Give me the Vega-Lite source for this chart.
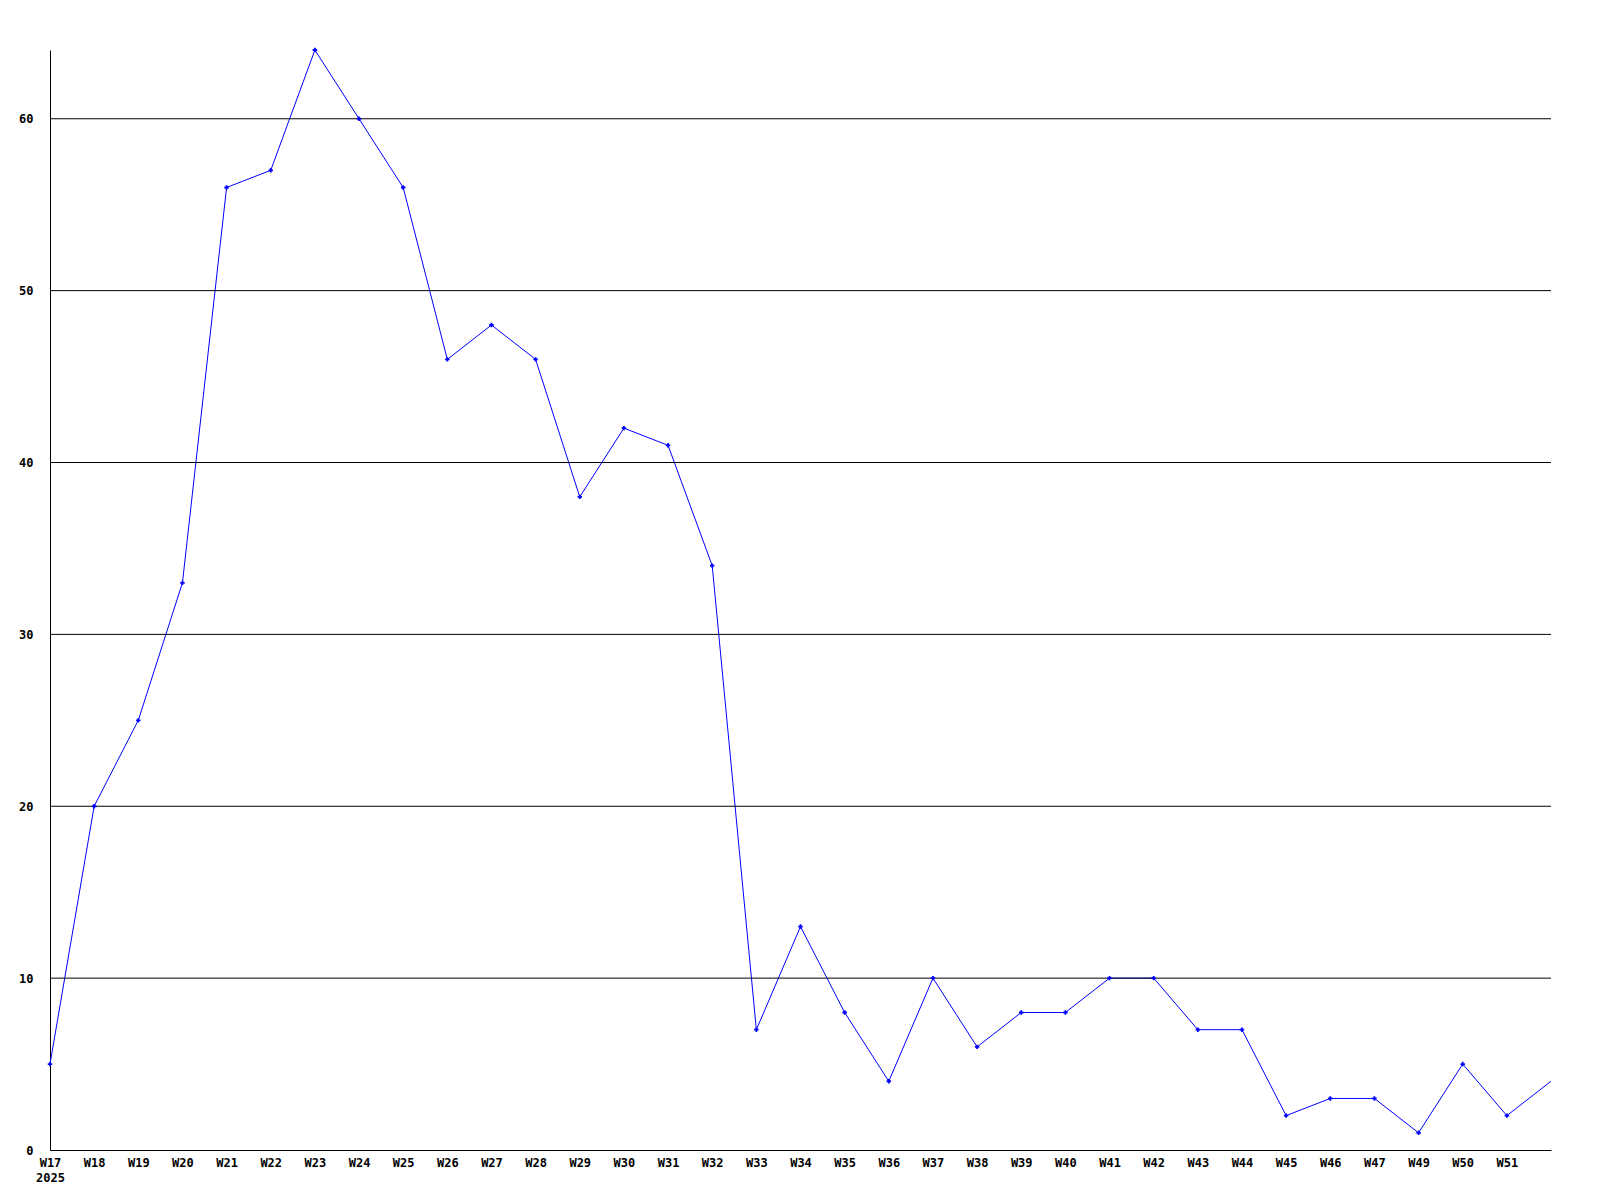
{
  "$schema": "https://vega.github.io/schema/vega-lite/v6.json",
  "autosize": {"type": "none"},
  "padding": {"left": 50, "top": 50, "right": 49, "bottom": 50},
  "width": 1501,
  "height": 1100,
  "background": "white",
  "config": {"view": {"stroke": null}},
  "datasets": {
    "series": [
      {"week": "W17", "value": 5},
      {"week": "W18", "value": 20},
      {"week": "W19", "value": 25},
      {"week": "W20", "value": 33},
      {"week": "W21", "value": 56},
      {"week": "W22", "value": 57},
      {"week": "W23", "value": 64},
      {"week": "W24", "value": 60},
      {"week": "W25", "value": 56},
      {"week": "W26", "value": 46},
      {"week": "W27", "value": 48},
      {"week": "W28", "value": 46},
      {"week": "W29", "value": 38},
      {"week": "W30", "value": 42},
      {"week": "W31", "value": 41},
      {"week": "W32", "value": 34},
      {"week": "W33", "value": 7},
      {"week": "W34", "value": 13},
      {"week": "W35", "value": 8},
      {"week": "W36", "value": 4},
      {"week": "W37", "value": 10},
      {"week": "W38", "value": 6},
      {"week": "W39", "value": 8},
      {"week": "W40", "value": 8},
      {"week": "W41", "value": 10},
      {"week": "W42", "value": 10},
      {"week": "W43", "value": 7},
      {"week": "W44", "value": 7},
      {"week": "W45", "value": 2},
      {"week": "W46", "value": 3},
      {"week": "W47", "value": 3},
      {"week": "W49", "value": 1},
      {"week": "W50", "value": 5},
      {"week": "W51", "value": 2},
      {"week": "W52", "value": 4}
    ],
    "grid": [{"g": 10}, {"g": 20}, {"g": 30}, {"g": 40}, {"g": 50}, {"g": 60}]
  },
  "layer": [
    {
      "data": {"name": "series"},
      "mark": {"type": "line", "color": "#0000ff", "strokeWidth": 1, "clip": true},
      "encoding": {
        "x": {
          "field": "week", "type": "ordinal", "sort": null,
          "scale": {"type": "point", "padding": 0},
          "axis": {
            "title": null, "labelAngle": 0, "ticks": false, "grid": false,
            "domainColor": "black", "domainWidth": 1,
            "labelFont": "DejaVu Sans Mono", "labelFontWeight": "bold", "labelFontSize": 12,
            "labelColor": "black", "labelPadding": 7, "labelBaseline": "top",
            "labelExpr": "datum.value == 'W17' ? ['W17', '2025'] : (datum.value == 'W52' ? '' : datum.value)",
            "labelLineHeight": 15
          }
        },
        "y": {
          "field": "value", "type": "quantitative",
          "scale": {"domain": [0, 64], "nice": false},
          "axis": {
            "title": null, "values": [0, 10, 20, 30, 40, 50, 60], "ticks": false,
            "grid": false,
            "domainColor": "black", "domainWidth": 1,
            "labelFont": "DejaVu Sans Mono", "labelFontWeight": "bold", "labelFontSize": 12,
            "labelColor": "black", "labelPadding": 17
          }
        }
      }
    },
    {
      "data": {"name": "grid"},
      "mark": {"type": "rule", "color": "black", "strokeWidth": 1},
      "encoding": {"y": {"field": "g", "type": "quantitative"}}
    },
    {
      "data": {"name": "series"},
      "transform": [{"filter": "datum.week != 'W52'"}],
      "mark": {"type": "point", "shape": "cross", "filled": true, "color": "#0000ff", "size": 20, "opacity": 1},
      "encoding": {
        "x": {"field": "week", "type": "ordinal", "sort": null},
        "y": {"field": "value", "type": "quantitative"}
      }
    }
  ]
}
